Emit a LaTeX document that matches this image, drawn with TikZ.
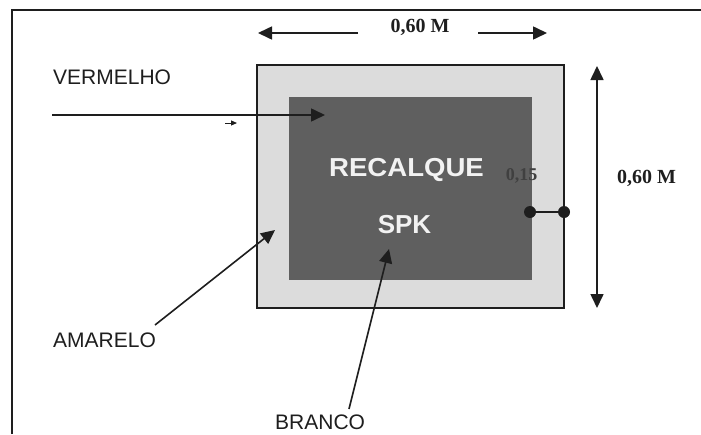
\documentclass[tikz,border=0pt]{standalone}
\usepackage{fontspec}
\setmainfont{Liberation Serif}
\setsansfont{Liberation Sans}
\usetikzlibrary{arrows.meta}
\definecolor{lightfill}{HTML}{DCDCDC}
\definecolor{darkfill}{HTML}{5F5F5F}
\definecolor{ink}{HTML}{1E1E1E}
\definecolor{whitetext}{HTML}{F2F2F2}
\tikzset{
  arr/.style={draw=ink, line width=1.6pt, -{Triangle[length=14pt,width=13pt]}},
  dimarr/.style={draw=ink, line width=1.6pt, {Triangle[length=14pt,width=13pt]}-{Triangle[length=14pt,width=13pt]}},
  label/.style={font=\sffamily\fontsize{21}{25}\selectfont, text=ink, inner sep=0pt},
  dimtext/.style={font=\rmfamily\bfseries\fontsize{20}{24}\selectfont, text=ink, inner sep=0pt},
  intext/.style={font=\sffamily\bfseries\fontsize{26}{30}\selectfont, text=whitetext, inner sep=0pt},
  dotnode/.style={circle, fill=ink, minimum size=12pt, inner sep=0pt, outer sep=0pt}
}
\begin{document}
\begin{tikzpicture}[x=1pt,y=-1pt]
\useasboundingbox (0,0) rectangle (701,434);
\fill[white] (0,0) rectangle (701,434);
% frame
\draw[ink, line width=2pt] (12,434) -- (12,10) -- (701,10);
% squares
\node[draw=ink, line width=1.6pt, fill=lightfill, minimum width=307pt, minimum height=243pt, inner sep=0pt, outer sep=0pt] (outer) at (410.5,186.5) {};
\node[fill=darkfill, minimum width=243pt, minimum height=183pt, inner sep=0pt, outer sep=0pt] (inner) at (410.5,188.5) {};
% inner texts
\node[intext, xscale=1.06, transform shape] (rec) at (406.5,170) {RECALQUE};
\node[intext] (spk) at (404.5,225) {SPK};
% 0,15 marker
\node[font=\rmfamily\bfseries\fontsize{18}{20}\selectfont, text=ink!85, inner sep=0pt] (t015) at (521.5,176) {0,15};
\node[dotnode] (d1) at (530,212) {};
\node[dotnode] (d2) at (564,212) {};
\draw[ink, line width=1.5pt] (d1) -- (d2);
% top dimension
\node[dimtext] (wtext) at (420,27) {0,60 M};
\coordinate (wl0) at (358,33);
\coordinate (wl1) at (258,33);
\coordinate (wr0) at (478,33);
\coordinate (wr1) at (547,33);
\draw[arr] (wl0) -- (wl1);
\draw[arr] (wr0) -- (wr1);
% right dimension
\node[dimtext] (htext) at (646.5,178) {0,60 M};
\coordinate (ht) at (597,66);
\coordinate (hb) at (597,308);
\draw[dimarr] (hb) -- (ht);
% labels
\node[label, anchor=west] (verm) at (53,77) {VERMELHO};
\coordinate (vs) at (52,115);
\coordinate (ve) at (325,115);
\draw[arr] (vs) -- (ve);
\coordinate (ss) at (225,123);
\coordinate (se) at (237,123);
\draw[ink, line width=1pt, -{Triangle[length=6pt,width=5pt]}] (ss) -- (se);
\node[label, anchor=west] (amar) at (53,340) {AMARELO};
\coordinate (ae) at (275,230);
\draw[arr] (155,325) -- (ae);
\node[label, anchor=west] (bran) at (275,422) {BRANCO};
\coordinate (be) at (389,249);
\draw[arr] (349,409) -- (be);
\end{tikzpicture}
\end{document}
